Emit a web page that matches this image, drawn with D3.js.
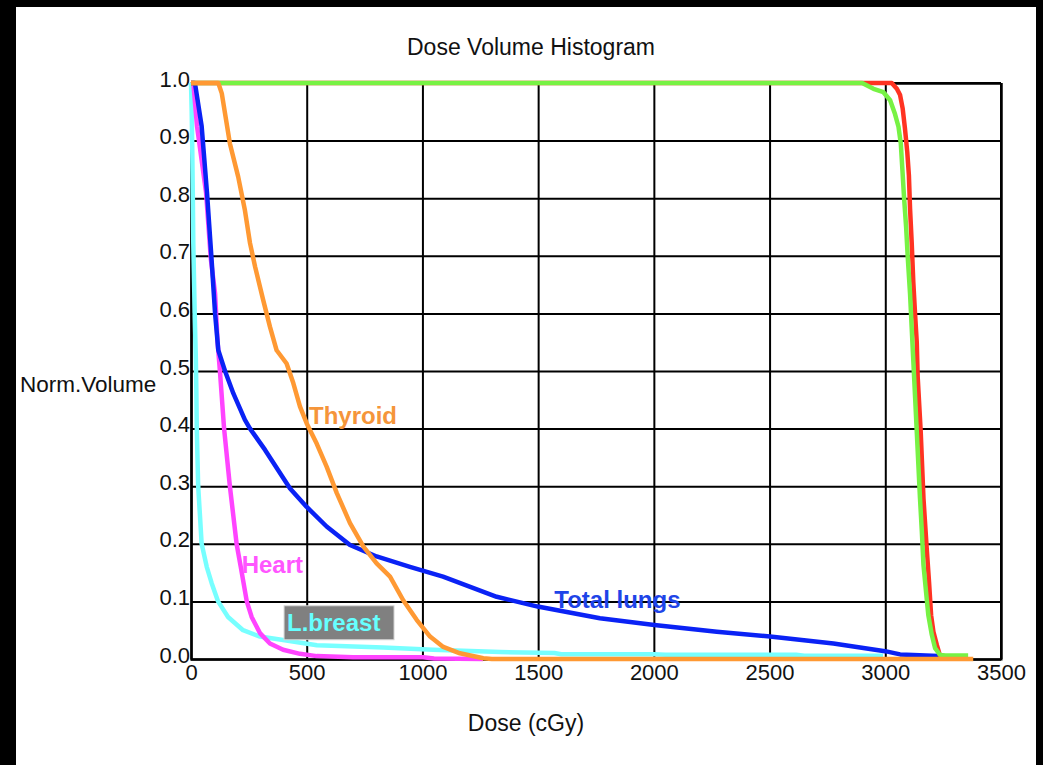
<!DOCTYPE html>
<html>
<head>
<meta charset="utf-8">
<script src="https://cdn.jsdelivr.net/npm/d3@7/dist/d3.min.js"></script>
<style>
  html, body { margin: 0; padding: 0; background: #000; }
  svg { display: block; }
</style>
</head>
<body>
<svg id="chart" width="1043" height="765"></svg>
<script>
// ---------------- DATA ----------------
const chartTitle = "Dose Volume Histogram";
const xLabel = "Dose (cGy)";
const yLabel = "Norm.Volume";
const xTicks = [0, 500, 1000, 1500, 2000, 2500, 3000, 3500];
const yTicks = [0.0, 0.1, 0.2, 0.3, 0.4, 0.5, 0.6, 0.7, 0.8, 0.9, 1.0];

// [dose (cGy), normalised volume]
const lBreast = [[0,1],[3,0.95],[5,0.9],[8,0.8],[10,0.72],[16,0.6],[21,0.52],[23,0.47],[25,0.4],[31,0.3],[39,0.247],[46,0.2],[68,0.16],[89,0.132],[117,0.1],[160,0.073],[225,0.05],[298,0.039],[398,0.033],[544,0.024],[830,0.02],[1046,0.016],[1336,0.012],[1570,0.0104],[1600,0.0083],[2000,0.0083],[2050,0.0075],[2615,0.0075],[2650,0.0057],[2990,0.0057]];
const heart = [[0,1],[10,1],[26,0.925],[65,0.81],[86,0.693],[104,0.635],[115,0.549],[125,0.5],[143,0.4],[168,0.3],[197,0.2],[215,0.16],[241,0.1],[262,0.073],[298,0.045],[341,0.027],[398,0.016],[471,0.009],[543,0.005],[700,0.003],[1003,0.003],[1050,0.001],[1262,0]];
const totalLungs = [[0,1],[17,1],[46,0.925],[69,0.81],[89,0.693],[104,0.6],[118,0.536],[147,0.5],[183,0.461],[233,0.415],[255,0.4],[320,0.363],[428,0.296],[500,0.264],[586,0.23],[687,0.198],[802,0.178],[946,0.16],[1089,0.143],[1321,0.108],[1498,0.091],[1767,0.0706],[2002,0.059],[2272,0.0475],[2502,0.039],[2776,0.027],[2999,0.0136],[3064,0.008],[3120,0.007],[3230,0.005],[3240,0]];
const ptvRed = [[0,1],[3028,1],[3050,0.99],[3064,0.979],[3075,0.956],[3085,0.921],[3095,0.88],[3102,0.84],[3107,0.782],[3114,0.724],[3121,0.655],[3129,0.597],[3136,0.55],[3140,0.49],[3153,0.395],[3165,0.279],[3179,0.192],[3189,0.134],[3198,0.076],[3208,0.047],[3223,0.024],[3237,0.005],[3260,0]];
const ptvGreen = [[0,1],[2900,1],[2949,0.99],[2992,0.984],[3021,0.97],[3042,0.946],[3057,0.924],[3067,0.895],[3074,0.849],[3081,0.802],[3090,0.75],[3097,0.698],[3107,0.634],[3114,0.576],[3121,0.519],[3129,0.453],[3136,0.395],[3143,0.337],[3150,0.279],[3158,0.221],[3165,0.163],[3176,0.117],[3186,0.076],[3201,0.042],[3215,0.019],[3237,0.007],[3260,0.006],[3358,0.006]];
const thyroid = [[0,1],[118,1],[133,0.982],[168,0.895],[204,0.837],[233,0.779],[255,0.722],[277,0.681],[312,0.623],[341,0.577],[370,0.536],[413,0.513],[442,0.479],[471,0.438],[500,0.409],[543,0.374],[586,0.334],[630,0.288],[687,0.236],[745,0.195],[802,0.166],[860,0.143],[917,0.102],[975,0.068],[1033,0.039],[1090,0.021],[1162,0.0099],[1263,0.0012],[1300,0],[3380,0]];

// ---------------- LAYOUT / STYLE ----------------
const W = 1043, H = 765;
const plot = { left: 191, right: 1001, top: 83, bottom: 659 };

const series = [
  { data: lBreast,    color: "#77ffff" },
  { data: heart,      color: "#ff44ff" },
  { data: totalLungs, color: "#0a22f5" },
  { data: ptvRed,     color: "#ff3322" },
  { data: ptvGreen,   color: "#77f244" },
  { data: thyroid,    color: "#ff9933" }
];

const labels = [
  { text: "Thyroid",     dose: 510,  vol: 0.408, color: "#f5953a" },
  { text: "Heart",       dose: 219,  vol: 0.149, color: "#ff55ff" },
  { text: "Total lungs", dose: 1570, vol: 0.088, color: "#1e44e8" },
  { text: "L.breast",    dose: 415,  vol: 0.049, color: "#66ffff", box: true }
];

const svg = d3.select("#chart");

// frame
svg.append("rect").attr("width", W).attr("height", H).attr("fill", "#000");
svg.append("rect").attr("x", 16).attr("y", 7).attr("width", 1020).attr("height", H - 7).attr("fill", "#fff");

const x = d3.scaleLinear().domain([0, 3500]).range([plot.left, plot.right]);
const y = d3.scaleLinear().domain([0, 1]).range([plot.bottom, plot.top]);

const font = "'Liberation Sans', Arial, Helvetica, sans-serif";

// grid + axes via d3 axes
const gx = svg.append("g")
  .attr("transform", `translate(0,${plot.bottom})`)
  .call(d3.axisBottom(x).tickValues(xTicks).tickSize(-(plot.bottom - plot.top)).tickPadding(10).tickFormat(d3.format("d")));
gx.select(".domain").attr("stroke", "#000").attr("stroke-width", 2);
gx.selectAll(".tick line").attr("stroke", "#000").attr("stroke-width", 2);
gx.selectAll(".tick text")
  .attr("fill", "#111").attr("font-family", font).attr("font-size", 22)
  .attr("dy", null).attr("y", 21);

const gy = svg.append("g")
  .attr("transform", `translate(${plot.left},0)`)
  .call(d3.axisLeft(y).tickValues(yTicks).tickSize(-(plot.right - plot.left)).tickPadding(1).tickFormat(d3.format(".1f")));
gy.select(".domain").attr("stroke", "#000").attr("stroke-width", 2);
gy.selectAll(".tick line").attr("stroke", "#000").attr("stroke-width", 2);
gy.selectAll(".tick text")
  .attr("fill", "#111").attr("font-family", font).attr("font-size", 22)
  .attr("dy", null).attr("y", 3).attr("x", -1);

// top and right border
svg.append("line").attr("x1", plot.left).attr("x2", plot.right).attr("y1", plot.top).attr("y2", plot.top).attr("stroke", "#000").attr("stroke-width", 2);
svg.append("line").attr("x1", plot.right).attr("x2", plot.right).attr("y1", plot.top).attr("y2", plot.bottom).attr("stroke", "#000").attr("stroke-width", 2);

// curves
const line = d3.line().x(d => x(d[0])).y(d => y(d[1]));
svg.append("g").selectAll("path").data(series).join("path")
  .attr("d", d => line(d.data))
  .attr("fill", "none")
  .attr("stroke", d => d.color)
  .attr("stroke-width", 4.5)
  .attr("stroke-linejoin", "round")
  .attr("stroke-linecap", "butt");

// labels
const lg = svg.append("g");
labels.forEach(l => {
  const px = x(l.dose), py = y(l.vol);
  if (l.box) {
    lg.append("rect").attr("x", px - 3).attr("y", py - 25).attr("width", 110).attr("height", 34)
      .attr("fill", "#808080").attr("stroke", "#d8d8d8").attr("stroke-width", 1);
  }
  lg.append("text").attr("x", px).attr("y", py).text(l.text)
    .attr("fill", l.color).attr("font-family", font).attr("font-size", 24).attr("font-weight", "bold");
});

// titles
svg.append("text").attr("x", 531).attr("y", 55).attr("text-anchor", "middle")
  .attr("font-family", font).attr("font-size", 23).attr("fill", "#111").text(chartTitle);
svg.append("text").attr("x", 526).attr("y", 731).attr("text-anchor", "middle")
  .attr("font-family", font).attr("font-size", 23).attr("fill", "#111").text(xLabel);
svg.append("text").attr("x", 20).attr("y", 392)
  .attr("font-family", font).attr("font-size", 22.5).attr("fill", "#111").text(yLabel);
</script>
</body>
</html>
